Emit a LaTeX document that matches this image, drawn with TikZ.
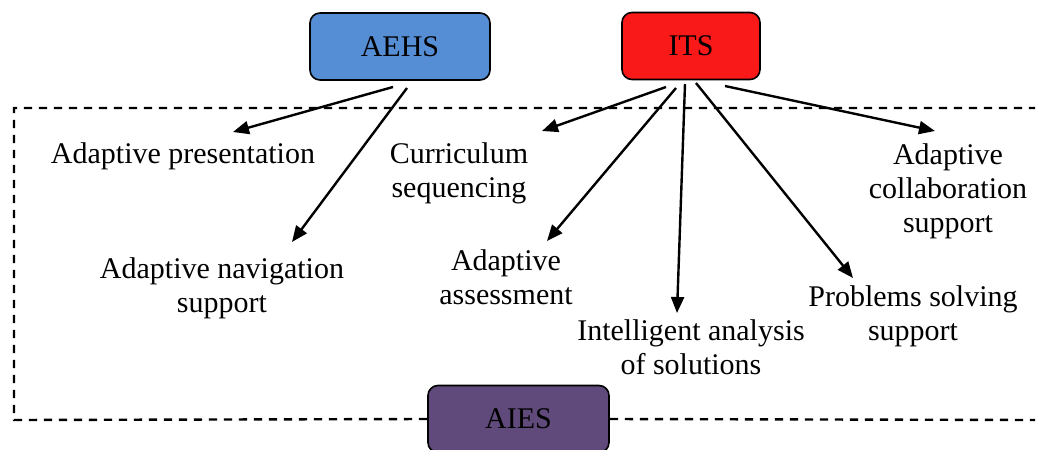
\documentclass[tikz,border=0pt]{standalone}
\usepackage{fontspec}
\setmainfont{Liberation Serif}
\usetikzlibrary{arrows.meta}
\definecolor{aehsblue}{RGB}{85,142,213}
\definecolor{itsred}{RGB}{250,25,25}
\definecolor{aiespurple}{RGB}{96,74,123}
\begin{document}
\begin{tikzpicture}[x=0.5pt,y=-0.5pt,
  sysbox/.style={draw=black, line width=0.8pt, rounded corners=5pt,
    minimum height=33.5pt, inner sep=0pt, font=\fontsize{15}{17}\selectfont},
  feature/.style={align=center, inner sep=0pt, font=\fontsize{15}{17}\selectfont},
  link/.style={line width=1.2pt, -{Triangle[length=8pt,width=6.5pt]}},
  frame/.style={line width=1.2pt, dash pattern=on 4.2pt off 3.3pt}]
\clip (0,0) rectangle (1041,450);

% system boxes
\node[sysbox, fill=aehsblue, minimum width=90pt] (aehs) at (400,46.5) {AEHS};
\node[sysbox, fill=itsred, minimum width=69pt] (its) at (691,46) {ITS};

% features
\node[feature] (pres)   at (183,156) {Adaptive presentation};
\node[feature] (curr)   at (459,173) {Curriculum\\sequencing};
\node[feature] (collab) at (948,191) {Adaptive\\collaboration\\support};
\node[feature] (nav)    at (222,288) {Adaptive navigation\\support};
\node[feature] (assess) at (506,277) {Adaptive\\assessment};
\node[feature] (intel)  at (691,347) {Intelligent analysis\\of solutions};
\node[feature] (prob)   at (913,316) {Problems solving\\support};

% dashed frame around the adaptive features, broken by the AIES box
\coordinate (fbl) at (14,420);
\coordinate (ftl) at (14,108);
\coordinate (ftr) at (1035,108);
\coordinate (fbr) at (1035,420);
\node[sysbox, fill=aiespurple, minimum width=90.5pt] (aies) at (518.5,419) {AIES};
\draw[frame] (aies.west) -- (fbl) -- (ftl) -- (ftr);
\draw[frame] (aies.east) -- (fbr);

% arrow ends
\coordinate (a1) at (393,87);   \coordinate (pres-t)   at (233,132);
\coordinate (a2) at (407,88);   \coordinate (nav-t)    at (292,242);
\coordinate (i1) at (666,87);   \coordinate (curr-t)   at (542,131);
\coordinate (i2) at (676,88);   \coordinate (assess-t) at (547,241);
\coordinate (i3) at (685,84);   \coordinate (intel-t)  at (677,313);
\coordinate (i4) at (696,83);   \coordinate (prob-t)   at (853,278);
\coordinate (i5) at (725,86);   \coordinate (collab-t) at (935,131);

\draw[link] (a1) -- (pres-t);
\draw[link] (a2) -- (nav-t);
\draw[link] (i1) -- (curr-t);
\draw[link] (i2) -- (assess-t);
\draw[link] (i3) -- (intel-t);
\draw[link] (i4) -- (prob-t);
\draw[link] (i5) -- (collab-t);
\end{tikzpicture}
\end{document}
